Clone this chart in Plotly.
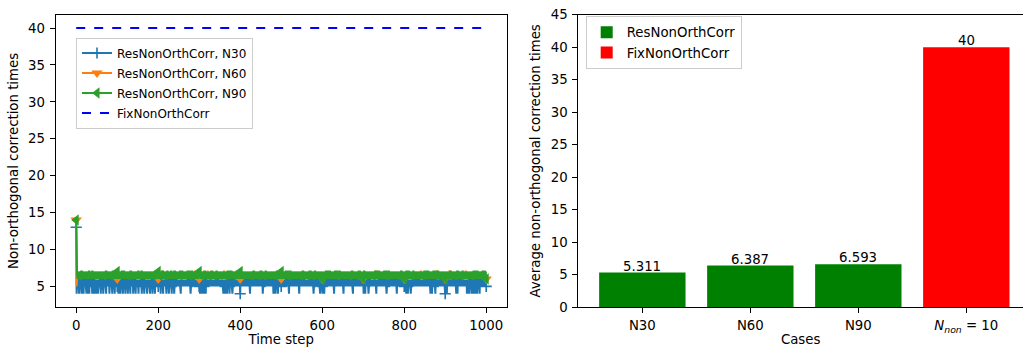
import plotly.graph_objects as go

# ---------------- left panel: per-step correction counts ----------------
# Each string block holds one digit per time step (steps 1..1000);
# the value at step 0 is listed separately.
n30_first = 13
n30_steps = [
    "4565564565 5645565465 5655465564 5465565645 6554656545",
    "6545655654 6556545655 6546556556 4565565465 5654655655",
    "6545655465 5654655654 6556546556 5465565645 5655465565",
    "5465565654 6556545655 6545655654 6556546556 5465565655",
    "6556546556 5465565654 6556545655 6546556545 6556565565",
    "5655465565 5655656556 5655656545 6556565565 6556565565",
    "5465546556 4565546555 6556565565 6556565565 5655656556",
    "6556565546 5545655465 5654655655 4565565565 6556565564",
    "6556565565 5655656556 5654655656 5565656556 5655656556",
    "5656455655 6556565565 5655656556 4565546556 5465565655",
    "6556565565 5655656546 5565655656 5565656556 5654655655",
    "6556565565 5655656556 5655656545 6556565565 5655465565",
    "4655465565 6556565565 5655656546 5565656556 5655656556",
    "5465565655 6556565565 5655465565 6556565565 5655656556",
    "4655465565 6545565565 5655656556 5465565655 6556565565",
    "5655654565 6556565565 5655656556 5465565655 6556565565",
    "5655465546 5565545655 6556565565 5655656556 5565656556",
    "5655656556 5654655465 5565546556 5565656556 5655656554",
    "5654655655 6556565565 5655654654 6556565565 5655656556",
    "5645565465 5654655465 5645565465 5654655655 6556565565",
]

n60_first = 14
n60_steps = [
    "5676676766 7667676676 6766767667 6676766767 6767667666",
    "7667676676 6766767667 6676766767 6767667676 7667676676",
    "6766767667 6676766767 6767667676 7667676676 6766767666",
    "7667667676 6767667676 6676767667 6766766767 6767667666",
    "6676766767 7667676676 6767667667 6676767676 6766767666",
    "7667676676 6676766767 6767667676 6766767667 7667676666",
    "6767667676 6766767667 7667676676 6676766767 6767667676",
    "6676767667 7667676676 6766767667 6767667676 6676766766",
    "7667676676 6766767667 6676766767 6767667676 7667676676",
    "6766767667 6676767676 7667676676 6767667667 6676766766",
    "6767667676 7667676676 6766767667 6676766767 6767667676",
    "7667676676 6676766767 6767667676 6766767667 6676767666",
    "6676766767 6767667676 7667676676 6766767667 6767667676",
    "7667676676 6766767667 6676766767 6767667676 7667676666",
    "6766767667 6767667676 6676766767 7667676676 6766767667",
    "6676767676 7667676676 6766767667 6767667676 6676766766",
    "7667676676 6676766767 6767667676 6766767667 7667676676",
    "6767667676 6766767667 6676766767 7667676676 6767667666",
    "6676766767 7667676676 6766767667 6767667676 6676767667",
    "7667676676 6766767667 6676766767 6767667676 7667676666",
]

n90_first = 14
n90_steps = [
    "7767677676 6777676776 7676776767 7767676677 6776767767",
    "7677677676 7767676776 6777676767 7676776677 7767677677",
    "6776767767 7767677676 7677676776 6777676767 7676776767",
    "7767676677 6776767767 7677677676 7767676776 6777676767",
    "7676776677 7767677676 6776767767 7767676677 7677677677",
    "6777676776 7676776767 7767677676 6776767767 7677676777",
    "7767676776 6777676767 7676776677 7767677676 6776767767",
    "7677677676 7767676677 6777676776 7676776767 7767676777",
    "6776767767 7677677676 7767676776 6777676767 7676776677",
    "7767677676 6776767767 7677676776 7767676677 6777676777",
    "7676776767 7767677676 6776767767 7677677676 7767676776",
    "6777676767 7676776677 7767677676 6776767767 7677676776",
    "7767676677 6777676776 7676776767 7767677676 6776767767",
    "7677677676 7767676776 6777676767 7676776677 7767677676",
    "6776767767 7677676776 7767676677 6777676776 7676776767",
    "7767677676 6776767767 7677677676 7767676776 6777676766",
    "7676776677 7767677676 6776767767 7677676776 7767676677",
    "6777676776 7676776767 7767677676 6776767767 7677677676",
    "7767676776 6777676767 7676776677 7767677676 6776767767",
    "7677676776 7767676677 6777676776 7676776767 7767677676",
]

fix_steps = [0, 1000]
fix_values = [40, 40]


def parse(first, rows):
    digits = "".join(rows).replace(" ", "")
    return [first] + [int(c) for c in digits]


n30 = parse(n30_first, n30_steps)
n60 = parse(n60_first, n60_steps)
n90 = parse(n90_first, n90_steps)
steps = list(range(len(n30)))
MARK_EVERY = 100

# ---------------- right panel: averages ----------------
res_cases = ["N30", "N60", "N90"]
res_avg = [5.311, 6.387, 6.593]
fix_cases = ["<i>N</i><sub><i>non</i></sub> = 10"]
fix_avg = [40]

FONT = "DejaVu Sans"
FS = 13.3
LEG_FS = 12.0
LW = 2.0
C0, C1, C2 = "#1f77b4", "#ff7f0e", "#2ca02c"

fig = go.Figure()

series = [
    ("ResNonOrthCorr, N30", n30, C0, dict(symbol="cross-thin", size=8,
                                          line=dict(color=C0, width=1.6))),
    ("ResNonOrthCorr, N60", n60, C1, dict(symbol="triangle-down", size=10,
                                          line=dict(width=0))),
    ("ResNonOrthCorr, N90", n90, C2, dict(symbol="triangle-left", size=10,
                                          line=dict(width=0))),
]

for name, vals, color, mk in series:
    fig.add_trace(go.Scatter(x=steps, y=vals, mode="lines",
                             line=dict(color=color, width=LW),
                             showlegend=False, xaxis="x", yaxis="y"))
    mx = steps[::MARK_EVERY]
    my = vals[::MARK_EVERY]
    fig.add_trace(go.Scatter(x=mx, y=my, mode="markers",
                             marker=dict(color=color, **mk),
                             showlegend=False, xaxis="x", yaxis="y"))

fig.add_trace(go.Scatter(x=fix_steps, y=fix_values, mode="lines",
                         line=dict(color="#0000ff", width=LW, dash="dash"),
                         showlegend=False, xaxis="x", yaxis="y"))

# legend entries for the left panel (one group each, for row spacing)
for i, (name, vals, color, mk) in enumerate(series):
    fig.add_trace(go.Scatter(x=[None], y=[None], mode="lines+markers",
                             name=name, line=dict(color=color, width=LW),
                             marker=dict(color=color, **mk),
                             legendgroup=f"g{i}",
                             legend="legend", xaxis="x", yaxis="y"))
fig.add_trace(go.Scatter(x=[None], y=[None], mode="lines",
                         name="FixNonOrthCorr", legendgroup="g3",
                         line=dict(color="#0000ff", width=LW, dash="dash"),
                         legend="legend", xaxis="x", yaxis="y"))

# bars
fig.add_trace(go.Bar(x=res_cases, y=res_avg, name="ResNonOrthCorr",
                     marker=dict(color="#008000", line=dict(width=0)),
                     width=0.8, legend="legend2",
                     xaxis="x2", yaxis="y2"))
fig.add_trace(go.Bar(x=fix_cases, y=fix_avg, name="FixNonOrthCorr",
                     marker=dict(color="#ff0000", line=dict(width=0)),
                     width=0.8, legend="legend2",
                     xaxis="x2", yaxis="y2"))

# value labels sitting on top of each bar
for cases, vals in ((res_cases, res_avg), (fix_cases, fix_avg)):
    for c, v in zip(cases, vals):
        fig.add_annotation(x=c, y=v, xref="x2", yref="y2", text=f"{v:g}",
                           showarrow=False, yanchor="bottom", yshift=-3,
                           font=dict(family=FONT, size=FS, color="black"))

W, H = 1023, 347
y_dom = [(H - 307) / H, (H - 14.8) / H]

axis_common = dict(showline=True, linecolor="black", linewidth=1,
                   mirror=True, ticks="outside", ticklen=5, tickwidth=1,
                   tickcolor="black", showgrid=False, zeroline=False,
                   automargin=False,
                   tickfont=dict(family=FONT, size=FS, color="black"),
                   title_font=dict(family=FONT, size=FS, color="black"))

fig.update_layout(
    width=W, height=H,
    margin=dict(l=0, r=0, t=0, b=0, pad=0, autoexpand=False),
    paper_bgcolor="white", plot_bgcolor="white",
    font=dict(family=FONT, size=FS, color="black"),
    barmode="overlay",
    xaxis=dict(domain=[55.7 / W, 506.7 / W], range=[-50, 1050],
               tickvals=[0, 200, 400, 600, 800, 1000], ticklabelstandoff=1,
               title=dict(text="Time step", standoff=10), **axis_common),
    yaxis=dict(domain=y_dom, range=[2.2, 41.8], ticklabelstandoff=2,
               tickvals=[5, 10, 15, 20, 25, 30, 35, 40],
               title=dict(text="Non-orthogonal correction times", standoff=6),
               **axis_common),
    xaxis2=dict(domain=[578.3 / W, 1.0], range=[-0.593, 3.525],
                type="category", anchor="y2", ticklabelstandoff=1,
                title=dict(text="Cases", standoff=10), **axis_common),
    yaxis2=dict(domain=y_dom, range=[0, 45], anchor="x2",
                tickvals=list(range(0, 50, 5)), ticklabelstandoff=2,
                title=dict(text="Average non-orthogonal correction times",
                           standoff=7),
                **axis_common),
    legend=dict(x=76 / W, y=(H - 37.5) / H, xanchor="left", yanchor="top",
                bgcolor="rgba(255,255,255,0.8)", bordercolor="#cccccc",
                borderwidth=1, font=dict(family=FONT, size=LEG_FS),
                tracegroupgap=1, itemwidth=30),
    legend2=dict(x=585.7 / W, y=(H - 16) / H, xanchor="left",
                 yanchor="top", bgcolor="rgba(255,255,255,0.8)",
                 bordercolor="#cccccc", borderwidth=1,
                 font=dict(family=FONT, size=FS), itemwidth=30),
)

fig.write_html("out.html")
